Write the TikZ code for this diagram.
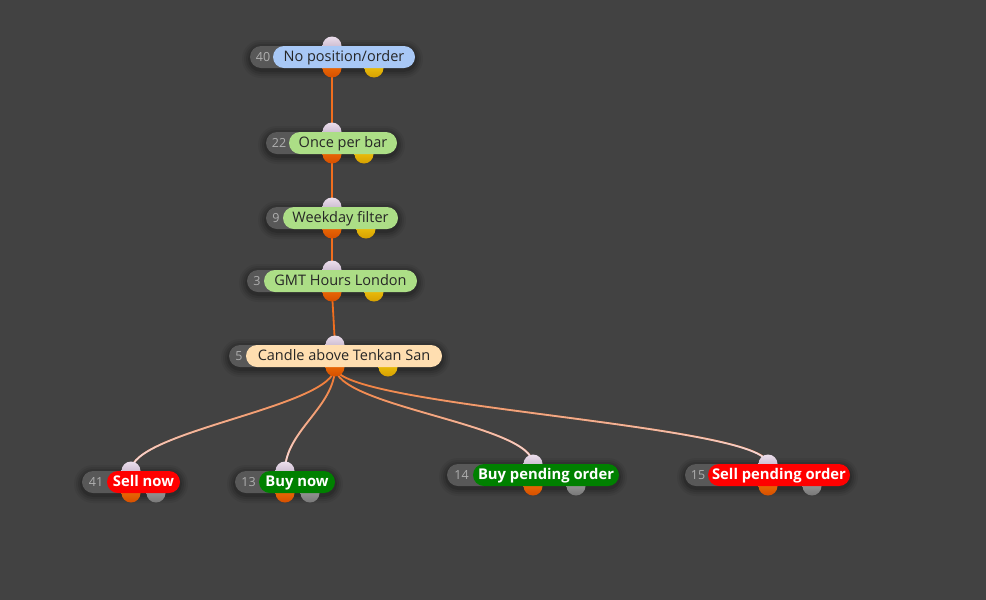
\documentclass[tikz,border=0pt]{standalone}
\usepackage{fontspec}
\setmainfont{Open Sans}
\usetikzlibrary{fadings}
\definecolor{bgc}{RGB}{66,66,66}
\definecolor{numgrey}{RGB}{88,88,88}
\definecolor{numtextc}{RGB}{175,175,175}
\definecolor{labeltext}{RGB}{38,38,38}
\definecolor{pillblue}{RGB}{168,200,246}
\definecolor{pillgreen}{RGB}{172,222,134}
\definecolor{pillpeach}{RGB}{255,222,176}
\definecolor{pillred}{RGB}{255,0,0}
\definecolor{pilldkgreen}{RGB}{0,128,0}
\definecolor{edgeorange}{RGB}{240,110,30}
\definecolor{edgelightc}{RGB}{246,228,238}
\definecolor{inporttop}{RGB}{236,222,236}
\definecolor{inportbot}{RGB}{178,160,186}
\definecolor{outporttop}{RGB}{246,120,10}
\definecolor{outportbot}{RGB}{214,80,0}
\definecolor{yelporttop}{RGB}{250,210,20}
\definecolor{yelportbot}{RGB}{214,160,0}
\definecolor{gryporttop}{RGB}{168,168,168}
\definecolor{gryportbot}{RGB}{120,120,120}
\pgfdeclarelayer{bglayer}
\pgfdeclarelayer{shadowlayer}
\pgfdeclarelayer{edgelayer}
\pgfdeclarelayer{circlayer}
\pgfsetlayers{bglayer,shadowlayer,edgelayer,circlayer,main}
\tikzfading[name=fadein, top color=transparent!100, middle color=transparent!85, bottom color=transparent!0]
\tikzset{
  pillbase/.style={rectangle, rounded corners=10.99pt, minimum height=22pt, inner sep=0pt,
    text height=11pt, text depth=2pt,
    font=\fontsize{14.5}{16}\selectfont, text=labeltext},
  bluepill/.style={pillbase, fill=pillblue},
  greenpill/.style={pillbase, fill=pillgreen},
  peachpill/.style={pillbase, fill=pillpeach},
  redpill/.style={pillbase, fill=pillred, text=white, font=\fontsize{14.8}{16}\selectfont\bfseries},
  dkgreenpill/.style={pillbase, fill=pilldkgreen, text=white, font=\fontsize{14.8}{16}\selectfont\bfseries},
  numpill/.style={rectangle, rounded corners=10.99pt, minimum height=22pt, inner sep=0pt, fill=numgrey},
  numtext/.style={font=\fontsize{12.5}{14}\selectfont, text=numtextc, inner sep=0pt,
    text height=9.5pt, text depth=1pt},
  portbase/.style={circle, minimum size=19pt, inner sep=0pt},
  inport/.style={portbase, top color=inporttop, bottom color=inportbot},
  outport/.style={portbase, top color=outporttop, bottom color=outportbot},
  yelport/.style={portbase, top color=yelporttop, bottom color=yelportbot},
  gryport/.style={portbase, top color=gryporttop, bottom color=gryportbot},
  edgebase/.style={draw=edgeorange, line width=1.8pt},
  edgelight/.style={draw=edgelightc, line width=1.8pt},
}
% #1 name #2 greyL #3 pillL #4 pillR #5 y #6 number #7 label #8 style
\newcommand\flowpill[8]{%
  \begin{pgfonlayer}{shadowlayer}
    \foreach \s/\o in {8/0.05,6/0.07,4/0.09,2/0.12}{%
      \fill[black,opacity=\o,rounded corners={(11+\s)*1pt}] (#2-\s,#5-9-\s) rectangle (#4+\s,#5+13+\s);}
  \end{pgfonlayer}
  \node[numpill, minimum width={(#3+22-#2)*1pt}] (#1-base) at ({(#2+#3+22)/2},#5) {};
  \node[numtext] (#1-num) at ({(#2+#3)/2+1.5},#5) {#6};
  \node[#8, minimum width={(#4-#3)*1pt}] (#1) at ({(#3+#4)/2},#5) {#7};
}
% #1 name #2 y #3 in x #4 out x #5 aux x #6 aux style
\newcommand\flowports[6]{%
  \begin{pgfonlayer}{circlayer}
    \node[inport] (#1-in) at (#3,#2-11) {};
    \node[outport] (#1-out) at (#4,#2+11) {};
    \node[#6] (#1-aux) at (#5,#2+11) {};
  \end{pgfonlayer}
}
\newcommand\flowstraight[2]{%
  \begin{pgfonlayer}{edgelayer}
    \draw[edgebase] (#1-out.center) -- (#2-in.center);
  \end{pgfonlayer}
}
\newcommand\flowcurve[2]{%
  \begin{pgfonlayer}{edgelayer}
    \draw[edgebase] (#1-out.center) .. controls +(0,40) and +(0,-40) .. (#2-in.center);
    \draw[edgelight, path fading=fadein, fit fading=true] (#1-out.center) .. controls +(0,40) and +(0,-40) .. (#2-in.center);
  \end{pgfonlayer}
}
\begin{document}
\begin{tikzpicture}[x=1pt,y=-1pt]
  \begin{pgfonlayer}{bglayer}
    \fill[bgc] (0,0) rectangle (986,600);
  \end{pgfonlayer}
  \useasboundingbox (0,0) rectangle (986,600);

  \flowpill{nA}{250}{273}{415}{57}{40}{No position/order}{bluepill}
  \flowports{nA}{57}{332}{332}{374}{yelport}

  \flowpill{nB}{266}{289}{397}{143}{22}{Once per bar}{greenpill}
  \flowports{nB}{143}{332}{332}{364}{yelport}

  \flowpill{nC}{266}{283}{398}{218}{9}{Weekday filter}{greenpill}
  \flowports{nC}{218}{332}{332}{366}{yelport}

  \flowpill{nD}{247}{264}{417}{281}{3}{GMT Hours London}{greenpill}
  \flowports{nD}{281}{332}{332}{374}{yelport}

  \flowpill{nE}{229}{246}{442}{356}{5}{Candle above Tenkan San}{peachpill}
  \flowports{nE}{356}{335}{335}{388}{yelport}

  \flowpill{nF}{82}{107}{180}{482}{41}{Sell now}{redpill}
  \flowports{nF}{482}{131}{131}{156}{gryport}

  \flowpill{nG}{235}{259}{335}{482}{13}{Buy now}{dkgreenpill}
  \flowports{nG}{482}{285}{285}{310}{gryport}

  \flowpill{nH}{447}{473}{619}{475}{14}{Buy pending order}{dkgreenpill}
  \flowports{nH}{475}{533}{533}{576}{gryport}

  \flowpill{nI}{685}{708}{850}{475}{15}{Sell pending order}{redpill}
  \flowports{nI}{475}{768}{768}{812}{gryport}

  \flowstraight{nA}{nB}
  \flowstraight{nB}{nC}
  \flowstraight{nC}{nD}
  \flowstraight{nD}{nE}
  \flowcurve{nE}{nF}
  \flowcurve{nE}{nG}
  \flowcurve{nE}{nH}
  \flowcurve{nE}{nI}
\end{tikzpicture}
\end{document}
